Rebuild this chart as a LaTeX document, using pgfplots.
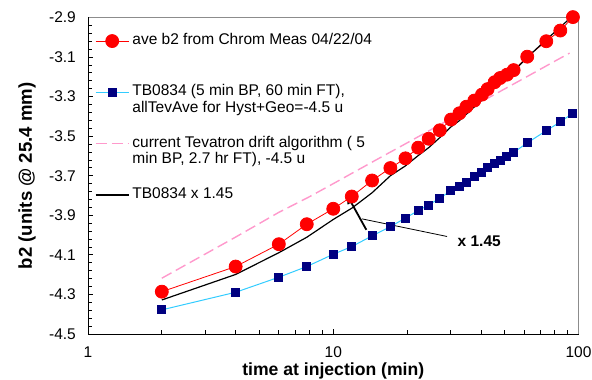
\documentclass[border=0pt]{standalone}
\usepackage{pgfplots}
\usepackage{pgfplotstable}
\pgfplotsset{compat=1.18}
\usepackage{fontspec}
\setmainfont{Liberation Sans}
\usetikzlibrary{arrows.meta}
\definecolor{navyc}{RGB}{0,0,128}
\definecolor{skyc}{RGB}{51,204,255}
\definecolor{pinkc}{RGB}{255,153,204}
\definecolor{framec}{RGB}{140,140,140}

\pgfplotstableread{
t red blue black
2.0 -4.286 -4.378 -4.328
4.0 -4.159 -4.289 -4.199
6.0 -4.046 -4.213 -4.089
7.8 -3.945 -4.159 -4.011
10.0 -3.867 -4.097 -3.921
11.9 -3.805 -4.058 -3.864
14.4 -3.724 -4.004 -3.786
17.1 -3.661 -3.957 -3.700
19.7 -3.612 -3.914 -3.650
22.2 -3.558 -3.876 -3.598
24.5 -3.513 -3.848 -3.558
27.2 -3.470 -3.813 -3.507
30.2 -3.416 -3.776 -3.453
32.7 -3.384 -3.754 -3.421
34.9 -3.351 -3.732 -3.389
37.6 -3.320 -3.706 -3.352
40.4 -3.290 -3.683 -3.318
42.6 -3.262 -3.660 -3.285
45.5 -3.227 -3.640 -3.256
47.9 -3.206 -3.624 -3.233
51.1 -3.189 -3.602 -3.201
54.4 -3.166 -3.582 -3.172
61.8 -3.098 -3.534 -3.102
73.9 -3.020 -3.472 -3.012
84.3 -2.966 -3.428 -2.949
94.9 -2.898 -3.383 -2.890
}\datatab

\pgfplotstableread{
t pink
2 -4.218
4 -4.010
6 -3.885
8 -3.806
10 -3.740
15 -3.619
20 -3.534
30 -3.413
40 -3.327
50 -3.261
60 -3.207
70 -3.161
80 -3.121
92 -3.080
}\pinktab

\begin{document}
\begin{tikzpicture}[font=\fontsize{15.5}{16.7}\selectfont]
\path[use as bounding box] (0,0) rectangle (592pt,380pt);
\begin{axis}[
  at={(88pt,46pt)}, anchor=south west,
  scale only axis, width=490.5pt, height=316.5pt,
  xmode=log, xmin=1, xmax=100, ymin=-4.5, ymax=-2.9,
  clip=false,
  xtick={1,10,100}, xticklabels={1,10,100},
  ytick={-4.5,-4.3,-4.1,-3.9,-3.7,-3.5,-3.3,-3.1,-2.9},
  yticklabels={-4.5,-4.3,-4.1,-3.9,-3.7,-3.5,-3.3,-3.1,-2.9},
  minor y tick num=4,
  tick pos=left, tick align=inside,
  major tick length=5pt, minor tick length=4pt,
  tick style={black, line width=0.8pt},
  axis line style={draw=framec, line width=0.8pt},
  yticklabel style={inner sep=0pt, xshift=-12pt},
  xticklabel style={inner sep=0pt, yshift=-12.5pt, text depth=0pt},
  xlabel={\bfseries\fontsize{17.6}{20}\selectfont time at injection (min)},
  ylabel={\bfseries\fontsize{18.6}{20}\selectfont b2 (units @ 25.4 mm)},
  every axis x label/.style={at={(rel axis cs:0.5,0)}, yshift=-41.8pt, anchor=base},
  every axis y label/.style={at={(rel axis cs:0,0.5)}, xshift=-56pt, rotate=90, anchor=base},
  legend image code/.code={\draw[mark repeat=2,mark phase=2,#1] plot coordinates {(0pt,0pt) (16.5pt,0pt) (33pt,0pt)};},
  legend cell align=left,
  legend style={at={(rel axis cs:0.01427,1.0047)}, anchor=north west,
    draw=none, fill=none, inner sep=0pt, outer sep=0pt,
    row sep=1.2pt, column sep=3pt,
    nodes={inner sep=0pt, text depth=},
    cells={anchor=west},
    font=\fontsize{15.5}{16.7}\selectfont},
  after end axis/.code={\draw[black, line width=0.8pt] (rel axis cs:0,1) -- (rel axis cs:0,0) -- (rel axis cs:1,0);},
]
\addplot[red, line width=0.8pt, mark=*, mark size=6.5pt, mark options={solid, fill=red, draw=red}] table[x=t, y=red] {\datatab};
\addlegendentry{\begin{tabular}{@{}l@{}}\mbox{}\\ ave b2 from Chrom Meas 04/22/04\\ \mbox{}\end{tabular}}
\addplot[skyc, line width=1pt, mark=square*, mark size=4pt, mark options={solid, fill=navyc, draw=navyc}] table[x=t, y=blue] {\datatab};
\addlegendentry{\begin{tabular}{@{}l@{}}\mbox{}\\ TB0834 (5 min BP, 60 min FT),\\ allTevAve for Hyst+Geo=-4.5 u\end{tabular}}
\addplot[pinkc, line width=1.4pt, dash pattern=on 11pt off 5pt] table[x=t, y=pink] {\pinktab};
\addlegendentry{\begin{tabular}{@{}l@{}}\mbox{}\\ current Tevatron drift algorithm ( 5\\ min BP, 2.7 hr FT), -4.5 u\end{tabular}}
\addplot[black, line width=1.2pt] table[x=t, y=black] {\datatab};
\addlegendentry{\begin{tabular}{@{}l@{}}\mbox{}\\ TB0834 x 1.45\\ \mbox{}\end{tabular}}
\draw[-{Triangle[length=9pt,width=8pt]}, line width=1.8pt] (axis cs:13.64,-3.973) -- (axis cs:11.37,-3.796);
\draw[line width=0.8pt] (axis cs:13.1,-3.918) -- (axis cs:29.1,-4.007);
\node[anchor=west, inner sep=0pt, font=\bfseries\fontsize{15.5}{16.7}\selectfont] at (axis cs:32.1,-4.029) {x 1.45};
\end{axis}
\end{tikzpicture}
\end{document}
